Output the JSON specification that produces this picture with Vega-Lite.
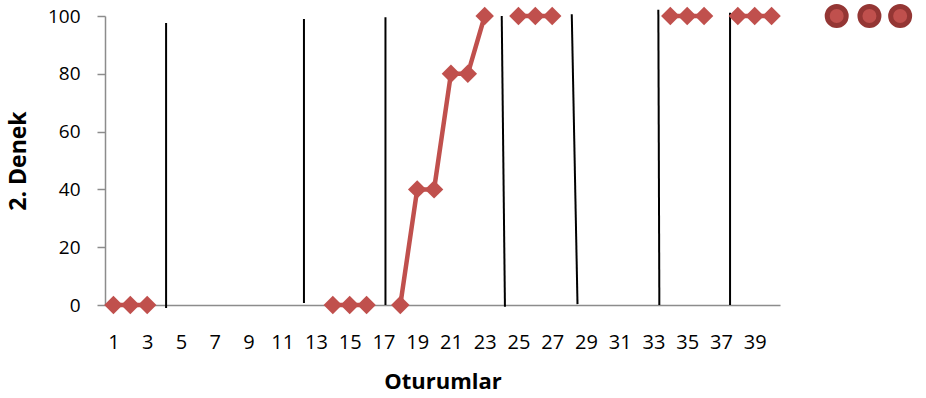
{
  "$schema": "https://vega.github.io/schema/vega-lite/v6.json",
  "width": 675,
  "height": 289,
  "autosize": {"type": "none"},
  "padding": {"left": 105, "top": 16, "right": 146, "bottom": 93},
  "background": "white",
  "config": {"view": {"stroke": null}, "font": "Open Sans"},
  "datasets": {
    "sessions": [
      {"oturum": 1, "deger": 0, "evre": "A"},
      {"oturum": 2, "deger": 0, "evre": "A"},
      {"oturum": 3, "deger": 0, "evre": "A"},
      {"oturum": 14, "deger": 0, "evre": "B"},
      {"oturum": 15, "deger": 0, "evre": "B"},
      {"oturum": 16, "deger": 0, "evre": "B"},
      {"oturum": 18, "deger": 0, "evre": "C"},
      {"oturum": 19, "deger": 40, "evre": "C"},
      {"oturum": 20, "deger": 40, "evre": "C"},
      {"oturum": 21, "deger": 80, "evre": "C"},
      {"oturum": 22, "deger": 80, "evre": "C"},
      {"oturum": 23, "deger": 100, "evre": "C"},
      {"oturum": 25, "deger": 100, "evre": "D"},
      {"oturum": 26, "deger": 100, "evre": "D"},
      {"oturum": 27, "deger": 100, "evre": "D"},
      {"oturum": 34, "deger": 100, "evre": "E"},
      {"oturum": 35, "deger": 100, "evre": "E"},
      {"oturum": 36, "deger": 100, "evre": "E"},
      {"oturum": 38, "deger": 100, "evre": "F"},
      {"oturum": 39, "deger": 100, "evre": "F"},
      {"oturum": 40, "deger": 100, "evre": "F"}
    ],
    "dividers": [
      {"oturum": 4.12, "deger": 97.6, "oturum2": 4.12, "deger2": -1.0},
      {"oturum": 12.29, "deger": 99.0, "oturum2": 12.29, "deger2": 0.7},
      {"oturum": 17.12, "deger": 99.6, "oturum2": 17.12, "deger2": 0},
      {"oturum": 24.01, "deger": 100, "oturum2": 24.2, "deger2": -0.6},
      {"oturum": 28.16, "deger": 100.6, "oturum2": 28.5, "deger2": 0.3},
      {"oturum": 33.29, "deger": 102.2, "oturum2": 33.35, "deger2": 0},
      {"oturum": 37.54, "deger": 101.1, "oturum2": 37.54, "deger2": 0}
    ],
    "circles": [
      {"oturum": 43.86, "deger": 100},
      {"oturum": 45.8, "deger": 100},
      {"oturum": 47.62, "deger": 100}
    ]
  },
  "encoding": {
    "x": {
      "field": "oturum", "type": "quantitative",
      "scale": {"domain": [0.5, 40.5], "nice": false, "zero": false},
      "axis": {
        "title": "Oturumlar",
        "values": [1,3,5,7,9,11,13,15,17,19,21,23,25,27,29,31,33,35,37,39],
        "grid": false, "ticks": false,
        "domainColor": "#8c8c8c", "domainWidth": 1.5,
        "labelFont": "Open Sans", "labelFontSize": 20, "labelColor": "black",
        "labelPadding": 27, "labelFlush": false, "labelOverlap": false, "labelSeparation": 0, "labelBound": false,
        "titleFont": "Open Sans", "titleFontSize": 22, "titleFontWeight": "bold", "titleColor": "black",
        "titleBaseline": "alphabetic", "titleY": 83
      }
    },
    "y": {
      "field": "deger", "type": "quantitative",
      "scale": {"domain": [0, 100], "nice": false},
      "axis": {
        "title": "2. Denek",
        "values": [0, 20, 40, 60, 80, 100],
        "grid": false, "ticks": true, "tickSize": 8, "tickColor": "#8c8c8c", "tickWidth": 1.5,
        "domainColor": "#8c8c8c", "domainWidth": 1.5,
        "labelFont": "Open Sans", "labelFontSize": 19, "labelColor": "black", "labelPadding": 17,
        "titleFont": "Open Sans", "titleFontSize": 23, "titleFontWeight": "bold", "titleColor": "black",
        "titleX": -87, "titleBaseline": "middle"
      }
    }
  },
  "layer": [
    {
      "data": {"name": "dividers"},
      "mark": {"type": "rule", "color": "black", "strokeWidth": 2},
      "encoding": {
        "x2": {"field": "oturum2"},
        "y2": {"field": "deger2"}
      }
    },
    {
      "data": {"name": "sessions"},
      "mark": {"type": "line", "color": "#C0504D", "strokeWidth": 4.5},
      "encoding": {
        "detail": {"field": "evre"}
      }
    },
    {
      "data": {"name": "sessions"},
      "mark": {"type": "point", "shape": "diamond", "filled": true, "color": "#C0504D", "opacity": 1, "size": 340},
      "encoding": {}
    },
    {
      "data": {"name": "circles"},
      "mark": {"type": "point", "shape": "circle", "filled": true, "fill": "#C0504D", "stroke": "#943634", "strokeWidth": 5, "opacity": 1, "fillOpacity": 1, "strokeOpacity": 1, "size": 361, "clip": false},
      "encoding": {}
    }
  ]
}
